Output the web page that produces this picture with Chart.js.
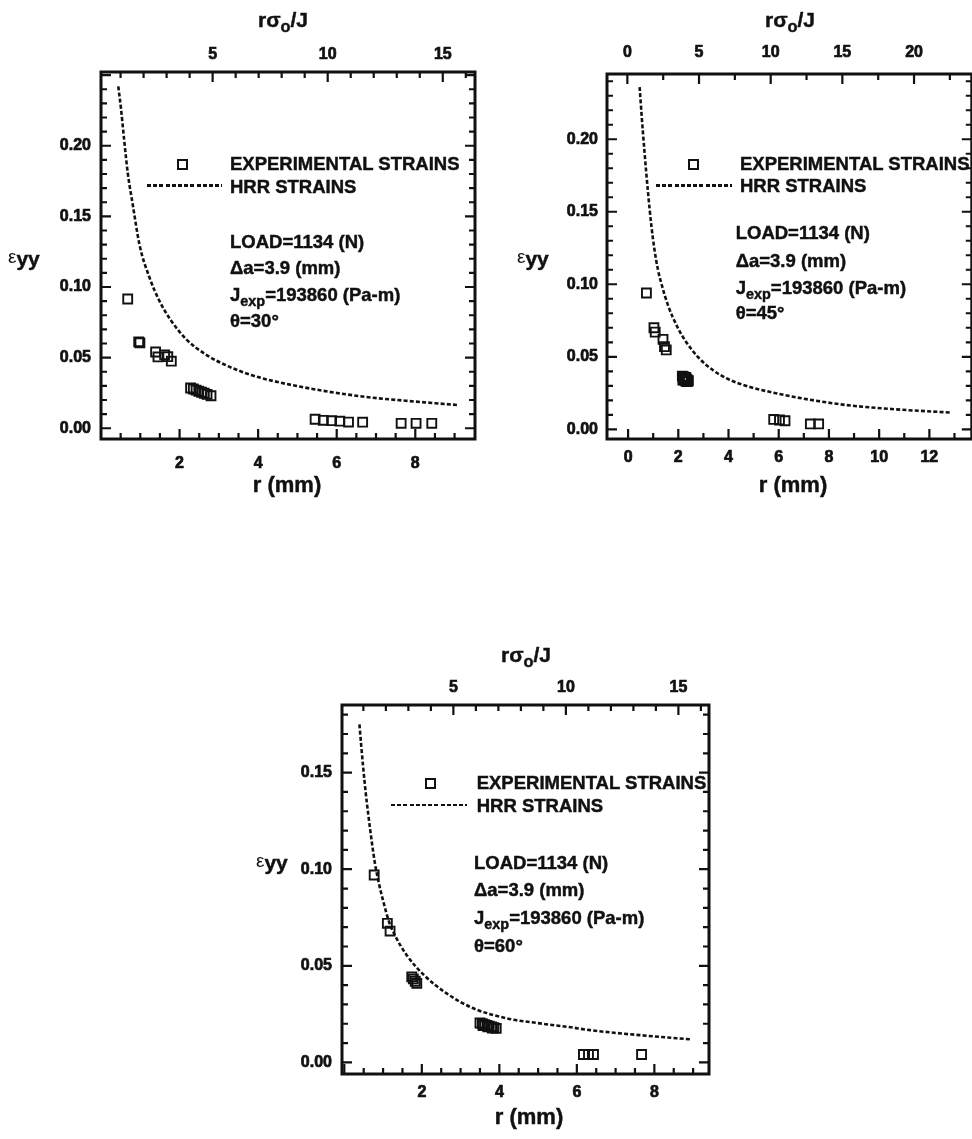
<!DOCTYPE html>
<html><head><meta charset="utf-8">
<script src="https://cdn.jsdelivr.net/npm/chart.js@4.4.1/dist/chart.umd.min.js"></script>
<style>
html,body{margin:0;padding:0;background:#fff;overflow:hidden;}
#root{position:relative;width:972px;height:1139px;overflow:hidden;background:#fff;}
.pane{position:absolute;}
.t{position:absolute;font-family:"Liberation Sans",Arial,sans-serif;font-weight:bold;color:#111;white-space:nowrap;line-height:1;-webkit-text-stroke:0.45px #111;}
.sub{position:relative;font-size:0.78em;top:0.32em;}
.sq{position:absolute;box-sizing:border-box;width:11px;height:11px;border:2px solid #111;}
.dash{position:absolute;height:2.6px;background:repeating-linear-gradient(90deg,#111 0 4px,transparent 4px 6.2px);}
</style></head><body>
<div id="root"></div>
<script>
// ===== DATA =====
// Panel θ=30°
const rExp30 = [0.68, 0.96, 0.99, 1.39, 1.45, 1.62, 1.70, 1.79, 2.28, 2.35, 2.42, 2.49, 2.56, 2.63, 2.70, 2.80, 5.45, 5.66, 5.87, 6.08, 6.30, 6.66, 7.64, 8.02, 8.42];
const eExp30 = [0.0915, 0.0612, 0.0605, 0.0540, 0.0505, 0.0520, 0.0507, 0.0475, 0.0285, 0.0278, 0.0270, 0.0262, 0.0255, 0.0248, 0.0240, 0.0230, 0.0064, 0.0056, 0.0054, 0.0050, 0.0044, 0.0043, 0.0035, 0.0035, 0.0035];
const rHRR30 = [0.44, 0.51, 0.59, 0.68, 0.81, 0.98, 1.23, 1.49, 1.79, 2.17, 2.68, 3.19, 3.79, 4.38, 5.06, 6.00, 6.93, 8.00, 9.06];
const eHRR30 = [0.242, 0.226, 0.204, 0.181, 0.158, 0.130, 0.107, 0.090, 0.076, 0.063, 0.052, 0.0445, 0.0380, 0.0335, 0.0295, 0.0250, 0.0216, 0.0189, 0.0165];
const xTicks30 = [2, 4, 6, 8];
const topTicks30 = [5, 10, 15];
const yTicks30 = [0, 0.05, 0.10, 0.15, 0.20];

// Panel θ=45°
const rExp45 = [0.73, 1.03, 1.08, 1.39, 1.45, 1.52, 2.16, 2.20, 2.24, 2.28, 2.32, 2.36, 2.40, 2.18, 2.22, 2.26, 2.30, 2.34, 2.38, 2.22, 2.30, 5.80, 6.03, 6.25, 7.26, 7.59];
const eExp45 = [0.0940, 0.0700, 0.0670, 0.0620, 0.0570, 0.0547, 0.0366, 0.0360, 0.0355, 0.0350, 0.0345, 0.0340, 0.0335, 0.0340, 0.0345, 0.0338, 0.0332, 0.0328, 0.0330, 0.0362, 0.0358, 0.0068, 0.0064, 0.0059, 0.0037, 0.0037];
const rHRR45 = [0.46, 0.55, 0.66, 0.79, 0.93, 1.05, 1.19, 1.35, 1.58, 1.98, 2.30, 2.80, 3.40, 4.00, 4.89, 5.94, 7.00, 8.65, 10.63, 12.87];
const eHRR45 = [0.236, 0.214, 0.190, 0.164, 0.140, 0.124, 0.110, 0.099, 0.086, 0.070, 0.0605, 0.0495, 0.0405, 0.0345, 0.0290, 0.0247, 0.0211, 0.0168, 0.0138, 0.0115];
const xTicks45 = [0, 2, 4, 6, 8, 10, 12];
const topTicks45 = [0, 5, 10, 15, 20];
const yTicks45 = [0, 0.05, 0.10, 0.15, 0.20];

// Panel θ=60°
const rExp60 = [0.77, 1.11, 1.18, 1.74, 1.78, 1.83, 1.87, 3.50, 3.56, 3.62, 3.68, 3.74, 3.80, 3.86, 3.92, 3.58, 3.70, 3.82, 6.17, 6.30, 6.43, 7.67];
const eExp60 = [0.0970, 0.0720, 0.0680, 0.0443, 0.0432, 0.0420, 0.0409, 0.0204, 0.0200, 0.0196, 0.0192, 0.0188, 0.0184, 0.0180, 0.0176, 0.0190, 0.0184, 0.0177, 0.0041, 0.0041, 0.0041, 0.0041];
const rHRR60 = [0.39, 0.44, 0.49, 0.55, 0.62, 0.71, 0.79, 0.90, 1.01, 1.15, 1.30, 1.61, 2.04, 2.64, 3.33, 4.19, 5.05, 5.80, 6.34, 7.63, 8.96];
const eHRR60 = [0.175, 0.163, 0.152, 0.140, 0.128, 0.114, 0.103, 0.092, 0.083, 0.073, 0.066, 0.0555, 0.0455, 0.0357, 0.0280, 0.0228, 0.0202, 0.0183, 0.0167, 0.0141, 0.0119];
const xTicks60 = [2, 4, 6, 8];
const topTicks60 = [5, 10, 15];
const yTicks60 = [0, 0.05, 0.10, 0.15];

const seriesNames = ['EXPERIMENTAL STRAINS', 'HRR STRAINS'];
const notes = ['LOAD=1134 (N)', 'Δa=3.9 (mm)', 'J<span class="sub">exp</span>=193860 (Pa-m)'];
const angles = ['θ=30°', 'θ=45°', 'θ=60°'];

// ===== LAYOUT / STYLE =====
const INK = '#111';
const FONT = '"Liberation Sans", Arial, sans-serif';
const root = document.getElementById('root');

const inTicks = {
  id: 'inTicks',
  afterDatasetsDraw(chart, args, o) {
    const {ctx, chartArea: a, scales} = chart;
    const vals = (sc, step) => { const out = []; const s = Math.ceil((sc.min - 1e-9) / step); for (let i = s; i * step <= sc.max + 1e-9; i++) out.push(i * step); return out; };
    const isMajor = (v, m) => Math.abs(v / m - Math.round(v / m)) < 1e-6;
    ctx.save();
    ctx.strokeStyle = INK;
    ctx.lineWidth = o.tickWidth;
    ctx.beginPath();
    for (const v of vals(scales.x, o.bottom[1])) {
      const p = scales.x.getPixelForValue(v); if (p < a.left + 2 || p > a.right - 2) continue;
      const len = isMajor(v, o.bottom[0]) ? o.major : o.minor;
      ctx.moveTo(p, a.bottom); ctx.lineTo(p, a.bottom - len);
    }
    for (const v of vals(scales.x2, o.top[1])) {
      const p = scales.x2.getPixelForValue(v); if (p < a.left + 2 || p > a.right - 2) continue;
      const len = isMajor(v, o.top[0]) ? o.major : o.minor;
      ctx.moveTo(p, a.top); ctx.lineTo(p, a.top + len);
    }
    for (const v of vals(scales.y, o.left[1])) {
      const p = scales.y.getPixelForValue(v); if (p < a.top + 2 || p > a.bottom - 2) continue;
      const len = isMajor(v, o.left[0]) ? o.major : o.minor;
      ctx.moveTo(a.left, p); ctx.lineTo(a.left + len, p);
      ctx.moveTo(a.right, p); ctx.lineTo(a.right - len, p);
    }
    ctx.stroke();
    ctx.lineWidth = o.borderWidth;
    ctx.strokeRect(a.left, a.top, a.right - a.left, a.bottom - a.top);
    ctx.restore();
  }
};

function txt(html, x, base, size, center, extra) {
  const d = document.createElement('div');
  d.className = 't';
  d.innerHTML = html;
  d.style.fontSize = size + 'px';
  d.style.top = (base - 0.8465 * size) + 'px';
  d.style.left = x + 'px';
  if (center) d.style.transform = 'translateX(-50%)';
  if (extra) Object.assign(d.style, extra);
  root.appendChild(d);
}

function panel(p) {
  const wrap = document.createElement('div');
  wrap.className = 'pane';
  Object.assign(wrap.style, {left: p.cx + 'px', top: p.cy + 'px', width: p.cw + 'px', height: p.ch + 'px'});
  const cv = document.createElement('canvas');
  cv.width = p.cw; cv.height = p.ch;
  cv.style.width = p.cw + 'px'; cv.style.height = p.ch + 'px';
  wrap.appendChild(cv); root.appendChild(wrap);
  const L = p.box[0] - p.cx, T = p.box[1] - p.cy, R = p.box[2] - p.cx, B = p.box[3] - p.cy;
  const tickFont = {family: FONT, weight: 'bold', size: 16};
  const common = {grid: {display: false, drawTicks: false}, border: {display: false}};
  const tk = (pad, cb) => ({padding: pad, font: tickFont, color: INK, textStrokeColor: INK, textStrokeWidth: 0.7, autoSkip: false, maxRotation: 0, callback: cb});
  new Chart(cv, {
    type: 'scatter',
    data: {datasets: [
      {label: seriesNames[0], data: p.rExp.map((r, i) => ({x: r, y: p.eExp[i]})),
       pointStyle: 'rect', pointRadius: 6.3, borderColor: INK, borderWidth: 1.9, backgroundColor: 'rgba(0,0,0,0)', showLine: false},
      {label: seriesNames[1], data: p.rHRR.map((r, i) => ({x: r, y: p.eHRR[i]})),
       showLine: true, pointRadius: 0, borderColor: INK, borderWidth: 2.6, borderDash: [4, 2.2], cubicInterpolationMode: 'monotone', fill: false}
    ]},
    options: {
      responsive: false, animation: false, devicePixelRatio: 1,
      layout: {padding: {left: 0, top: 0, right: p.cw - R, bottom: 0}},
      plugins: {legend: {display: false}, tooltip: {enabled: false},
        inTicks: {bottom: p.bSteps, top: p.tSteps, left: p.ySteps, major: 10, minor: 6, tickWidth: 2.2, borderWidth: 3}},
      scales: {
        x: {...common, type: 'linear', position: 'bottom', min: p.xr[0], max: p.xr[1],
          ticks: tk(p.pad[0], v => String(v)),
          afterBuildTicks: s => { s.ticks = p.xT.map(v => ({value: v})); },
          afterFit: s => { s.height = p.ch - B; s.paddingLeft = 0; s.paddingRight = 0; }},
        x2: {...common, type: 'linear', axis: 'x', position: 'top', min: p.tr[0], max: p.tr[1],
          ticks: tk(p.pad[1], v => String(v)),
          afterBuildTicks: s => { s.ticks = p.tT.map(v => ({value: v})); },
          afterFit: s => { s.height = T; s.paddingLeft = 0; s.paddingRight = 0; }},
        y: {...common, type: 'linear', position: 'left', min: p.yr[0], max: p.yr[1],
          ticks: tk(p.pad[2], v => v.toFixed(2)),
          afterBuildTicks: s => { s.ticks = p.yT.map(v => ({value: v})); },
          afterFit: s => { s.width = L; s.paddingTop = 0; s.paddingBottom = 0; }}
      }
    },
    plugins: [inTicks]
  });

  // titles & annotations (real text)
  txt('rσ<span class="sub">o</span>/J', p.title[0], p.title[1], 21, true);
  txt('<span style="font-weight:normal;font-size:0.9em;position:relative;top:-0.18em;-webkit-text-stroke:0">ε</span>yy', p.eps[0], p.eps[1], 21, false);
  txt('r (mm)', p.xl[0], p.xl[1], 22, true);
  const sq = document.createElement('div'); sq.className = 'sq';
  sq.style.left = (p.leg.sq[0] - 5.5) + 'px'; sq.style.top = (p.leg.sq[1] - 5.5) + 'px'; root.appendChild(sq);
  const dl = document.createElement('div'); dl.className = 'dash';
  dl.style.left = p.leg.dash[0] + 'px'; dl.style.width = (p.leg.dash[1] - p.leg.dash[0]) + 'px'; dl.style.top = (p.leg.dash[2] - 1.3) + 'px'; root.appendChild(dl);
  txt(seriesNames[0], p.leg.tx, p.leg.b[0], 18.5, false);
  txt(seriesNames[1], p.leg.tx, p.leg.b[1], 18.5, false);
  const lines = notes.concat([p.angle]);
  lines.forEach((s, i) => txt(s, p.ann.x, p.ann.b[i], 18.5, false));
}

panel({cx: 0, cy: 0, cw: 490, ch: 520, box: [101, 72, 475, 439],
  xr: [0, 9.52], tr: [0.15, 16.4], yr: [-0.0076, 0.2522],
  xT: xTicks30, tT: topTicks30, yT: yTicks30, pad: [15, 8, 10],
  bSteps: [2, 0.5], tSteps: [5, 1], ySteps: [0.05, 0.01],
  rExp: rExp30, eExp: eExp30, rHRR: rHRR30, eHRR: eHRR30,
  title: [283, 27], eps: [8, 266], xl: [287, 493],
  leg: {sq: [182.7, 164.3], dash: [146.7, 221.7, 185.7], tx: 230, b: [170.7, 193.3]},
  ann: {x: 230, b: [248.3, 275, 301.7, 328]}, angle: angles[0]});

panel({cx: 490, cy: 0, cw: 490, ch: 520, box: [607, 74, 974, 439],
  xr: [-0.84, 13.69], tr: [-1.42, 24.03], yr: [-0.0067, 0.245],
  xT: xTicks45, tT: topTicks45, yT: yTicks45, pad: [9, 12, 9],
  bSteps: [2, 1], tSteps: [5, 2.5], ySteps: [0.05, 0.01],
  rExp: rExp45, eExp: eExp45, rHRR: rHRR45, eHRR: eHRR45,
  title: [790, 27], eps: [517, 266], xl: [793, 493],
  leg: {sq: [693.3, 164.3], dash: [655.7, 731.7, 185.7], tx: 740, b: [170.7, 192.7]},
  ann: {x: 735.7, b: [240, 267.5, 295, 320]}, angle: angles[1]});

panel({cx: 240, cy: 630, cw: 500, ch: 509, box: [342, 705, 709, 1074],
  xr: [-0.06, 9.41], tr: [0.05, 16.36], yr: [-0.006, 0.185],
  xT: xTicks60, tT: topTicks60, yT: yTicks60, pad: [9, 8, 10],
  bSteps: [2, 0.5], tSteps: [5, 1], ySteps: [0.05, 0.01],
  rExp: rExp60, eExp: eExp60, rHRR: rHRR60, eHRR: eHRR60,
  title: [526, 661.7], eps: [256, 870], xl: [529, 1125],
  leg: {sq: [430, 783.3], dash: [390.7, 466.7, 805], tx: 476.7, b: [790, 812.7]},
  ann: {x: 474, b: [870, 897, 925, 953]}, angle: angles[2]});
</script>
</body></html>
